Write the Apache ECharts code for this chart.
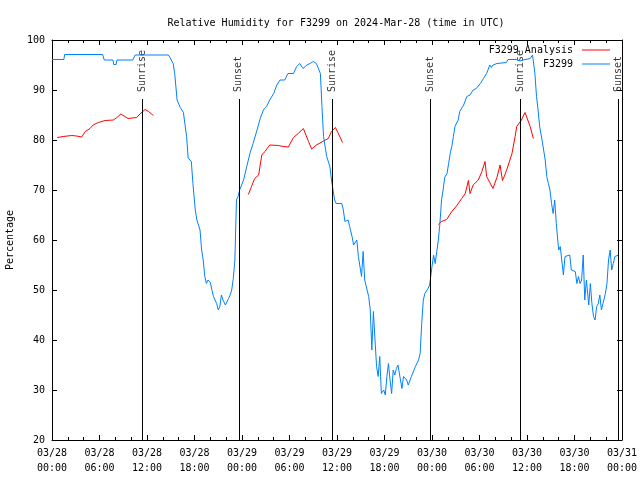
<!DOCTYPE html>
<html>
<head>
<meta charset="utf-8">
<script src="https://cdn.jsdelivr.net/npm/echarts@6/dist/echarts.min.js"></script>
<style>html,body{margin:0;padding:0;background:#fff}#c{width:640px;height:480px}</style>
</head>
<body>
<div id="c"></div>
<script>
// hours since 2024-03-28 00:00 UTC
const blueHours = [0,1.5,1.6,6.4,6.6,7.7,7.8,8.1,8.2,10.2,10.5,14.7,14.9,15.3,15.5,15.8,16.2,16.6,17.0,17.2,17.6,17.8,18.1,18.3,18.7,18.9,19.1,19.3,19.5,19.7,20.0,20.2,20.4,20.8,21.0,21.2,21.4,21.6,21.9,22.1,22.3,22.5,22.7,22.9,23.1,23.3,23.5,23.7,24.2,24.6,25.0,25.4,25.9,26.3,26.7,27.1,27.5,28.0,28.4,28.8,29.4,29.8,30.5,30.9,31.3,31.7,32.2,32.6,33.0,33.2,33.4,33.6,33.9,34.1,34.3,34.7,35.1,35.3,35.5,35.7,35.9,36.6,36.8,37.0,37.4,37.6,37.9,38.1,38.5,38.7,39.1,39.3,39.5,40.0,40.2,40.4,40.6,40.8,41.0,41.2,41.4,41.6,41.9,42.1,42.3,42.5,42.7,42.9,43.1,43.3,43.5,43.7,44.2,44.4,44.8,45.0,45.4,45.9,46.3,46.5,46.7,46.9,47.1,47.5,47.7,48.0,48.2,48.4,48.6,48.8,49.0,49.2,49.4,49.6,49.9,50.1,50.3,50.5,50.7,50.9,51.3,51.5,52.0,52.4,52.8,53.2,53.6,54.1,54.5,54.9,55.3,55.5,55.7,56.2,57.4,57.6,58.7,59.1,59.5,60.4,60.7,61.0,61.2,61.4,61.6,61.9,62.1,62.3,62.5,62.7,62.9,63.1,63.3,63.5,63.7,64.0,64.2,64.4,64.6,64.8,65.0,65.4,65.6,66.1,66.3,66.5,66.7,66.9,67.1,67.3,67.5,67.8,68.0,68.2,68.4,68.6,68.8,69.0,69.2,69.4,69.6,69.9,70.1,70.3,70.5,70.7,70.9,71.1,71.6];
const blueValues = [96.1,96.1,97.1,97.1,96.0,96.0,95.1,95.1,96.0,96.0,97.0,97.0,96.5,95.3,93.3,88,86.5,85.5,80.7,76.4,75.7,71.3,66,64,62,58,56,52.7,51.3,52,51.5,50,48.7,47.3,46,46.7,49,48,47,47.3,48.3,49,50,52.3,56,68,68.7,70,72,74.7,77.3,79.3,82,84.3,86,86.7,88,89.3,91,92,92,93.3,93.3,94.7,95.3,94.3,95,95.3,95.7,96,95.3,95.7,93.3,86.7,80.7,76.7,74.7,72,70,68,67.3,67.3,66,63.7,64,62.7,60.7,59,60,56.7,52.7,57.7,52,48.7,46,38,45.7,40,34.7,32.7,36.7,29.3,30,29,32.7,35.3,32,29.3,34,33,34.3,35,30.3,32.7,32,31,32.7,34.7,36,37.3,43.3,48,49.3,50.3,51,54.7,57,55.3,55,60,63.3,68,70,72.5,73.3,75.3,77.3,78.7,80.7,82.7,84,85.7,87,88.7,89,90,90.3,91.3,92.3,93.3,95,94.5,95,95.3,95.5,96.1,96.1,95.8,96,96.3,97,93.3,88.7,86,82.7,80,78,76,72.7,71.3,70,67.3,65.3,68,63.3,58,58.7,58.3,53,56.7,56.7,57,54,53.7,51.3,52.7,51.3,52,57,48,52,47,51.3,47.3,44.7,44,46.7,47.3,49,46,47.3,49.3,51.3,56,58,54,55.3,56.7,57];
// null marks a gap in the analysis series
const redHours = [0.67,1.4,2.5,3.1,3.75,4.2,4.8,5.2,5.85,6.7,7.75,8.2,8.7,9.2,9.6,10.7,11.1,11.75,12.2,12.8,null,
  24.8,25.2,25.6,26.1,26.5,26.9,27.5,28.6,29.2,29.85,30.5,31.1,31.75,32.4,32.8,33.4,34.3,34.9,35.3,35.8,36.2,36.7,null,
  48.8,49.2,49.85,50.5,51.1,51.75,52.2,52.6,52.8,53.2,53.85,54.3,54.7,54.9,55.3,55.7,56.2,56.6,56.9,57.2,57.6,58.1,58.5,58.7,58.9,59.3,59.75,59.95,60.4,60.8];
const redValues = [80.5,80.7,80.9,80.8,80.6,81.7,82.3,83,83.5,83.9,84,84.5,85.2,84.7,84.3,84.5,85.2,86.1,85.7,84.9,null,
  69.1,70.7,72.3,73,77,77.7,79,78.9,78.7,78.6,80.5,81.3,82.3,79.7,78.2,79,79.8,80.3,81.7,82.5,81.2,79.5,null,
  63.1,63.7,64.1,65.7,66.8,68.3,69.3,71.9,69.3,71,72,73.7,75.7,72.7,71.5,70.3,72.5,75,71.9,73,74.8,77.3,80.7,82.7,82.3,84,85.5,85.2,82.7,80.3];
const sunHours = [11.37, 23.6, 35.37, 47.75, 59.2, 71.5];
const sunLabels = ['Sunrise','Sunset','Sunrise','Sunset','Sunrise','Sunset'];
const xTickHours = [0,6,12,18,24,30,36,42,48,54,60,66,72];
const yTicks = [20,30,40,50,60,70,80,90,100];

const FONT = 'DejaVu Sans Mono';
const chart = echarts.init(document.getElementById('c'), null, {renderer:'canvas'});

function fmtX(h){
  const day = 28 + Math.floor(h/24);
  const hr = h % 24;
  return '03/' + String(day).padStart(2,'0') + '\n' + String(hr).padStart(2,'0') + ':00';
}
const blueData = blueHours.map((h,i)=>[h, blueValues[i]]);
const redSegs = [[]];
redHours.forEach((h,i)=>{ if(h===null){ redSegs.push([]); } else { redSegs[redSegs.length-1].push([h, redValues[i]]); } });

const lineBase = {type:'line', symbol:'none', showSymbol:false, animation:false, lineStyle:{width:1}};
const series = [];
redSegs.forEach(seg=>series.push(Object.assign({}, lineBase, {name:'F3299 Analysis', data:seg, color:'#ff0000', lineStyle:{width:1,color:'#ff0000'}})));
series.push(Object.assign({}, lineBase, {name:'F3299', data:blueData, color:'#0080ff', lineStyle:{width:1,color:'#0080ff'}}));
series.push({
  type:'scatter', name:'sun', animation:false, silent:true, clip:false,
  symbol:'circle', symbolSize:2, itemStyle:{color:'rgba(0,0,0,0)'},
  data: sunHours.map((h,i)=>({value:[h, 89.6], label:{formatter: sunLabels[i]}})),
  label:{show:true, rotate:90, position:'inside', align:'left', verticalAlign:'middle',
    fontFamily:FONT, fontSize:10, color:'#000'},
  labelLayout:{hideOverlap:false},
  markLine:{silent:true, symbol:'none', animation:false, label:{show:false},
    lineStyle:{color:'#000', type:'solid', width:1},
    data: sunHours.map(h=>[{coord:[h,20]},{coord:[h,88.2]}])}
});

const legendCommon = {right:30, orient:'vertical', align:'right', itemWidth:28, itemHeight:1, icon:'rect', padding:0,
  textStyle:{fontFamily:FONT, fontSize:10, color:'#000', padding:[0,4,0,0]}};
const ySplit = yTicks.length - 1;
chart.setOption({
  animation:false,
  title:{text:'Relative Humidity for F3299 on 2024-Mar-28 (time in UTC)', left:331, textAlign:'center', top:13,
    textStyle:{fontFamily:FONT, fontSize:10, fontWeight:'normal', color:'#000'}},
  legend:[
    Object.assign({data:['F3299 Analysis'], top:45}, legendCommon),
    Object.assign({data:['F3299'], top:59}, legendCommon)
  ],
  grid:{left:52, right:18, top:40, bottom:40, containLabel:false, outerBoundsMode:'none', show:false},
  xAxis:[
    {type:'value', min:xTickHours[0], max:xTickHours[xTickHours.length-1], interval:6, position:'bottom',
      axisLine:{show:true, onZero:false, lineStyle:{color:'#000', width:1}},
      axisTick:{show:true, inside:true, length:5, lineStyle:{color:'#000'}},
      minorTick:{show:true, splitNumber:3, length:3, lineStyle:{color:'#000'}},
      splitLine:{show:false},
      axisLabel:{formatter:fmtX, fontFamily:FONT, fontSize:10, color:'#000', lineHeight:15, margin:6}},
    {type:'value', min:xTickHours[0], max:xTickHours[xTickHours.length-1], interval:6, position:'top',
      axisLine:{show:true, onZero:false, lineStyle:{color:'#000', width:1}},
      axisTick:{show:true, inside:true, length:5, lineStyle:{color:'#000'}},
      minorTick:{show:true, splitNumber:3, length:3, lineStyle:{color:'#000'}},
      splitLine:{show:false}, axisLabel:{show:false}}
  ],
  yAxis:[
    {type:'value', min:yTicks[0], max:yTicks[ySplit], interval:10, position:'left',
      name:'Percentage', nameLocation:'middle', nameGap:37, nameRotate:90,
      nameTextStyle:{fontFamily:FONT, fontSize:10, color:'#000'},
      axisLine:{show:true, onZero:false, lineStyle:{color:'#000', width:1}},
      axisTick:{show:true, inside:true, length:5, lineStyle:{color:'#000'}},
      splitLine:{show:false},
      axisLabel:{fontFamily:FONT, fontSize:10, color:'#000', margin:7}},
    {type:'value', min:yTicks[0], max:yTicks[ySplit], interval:10, position:'right',
      axisLine:{show:true, onZero:false, lineStyle:{color:'#000', width:1}},
      axisTick:{show:true, inside:true, length:5, lineStyle:{color:'#000'}},
      splitLine:{show:false}, axisLabel:{show:false}}
  ],
  series: series
});
</script>
</body>
</html>
